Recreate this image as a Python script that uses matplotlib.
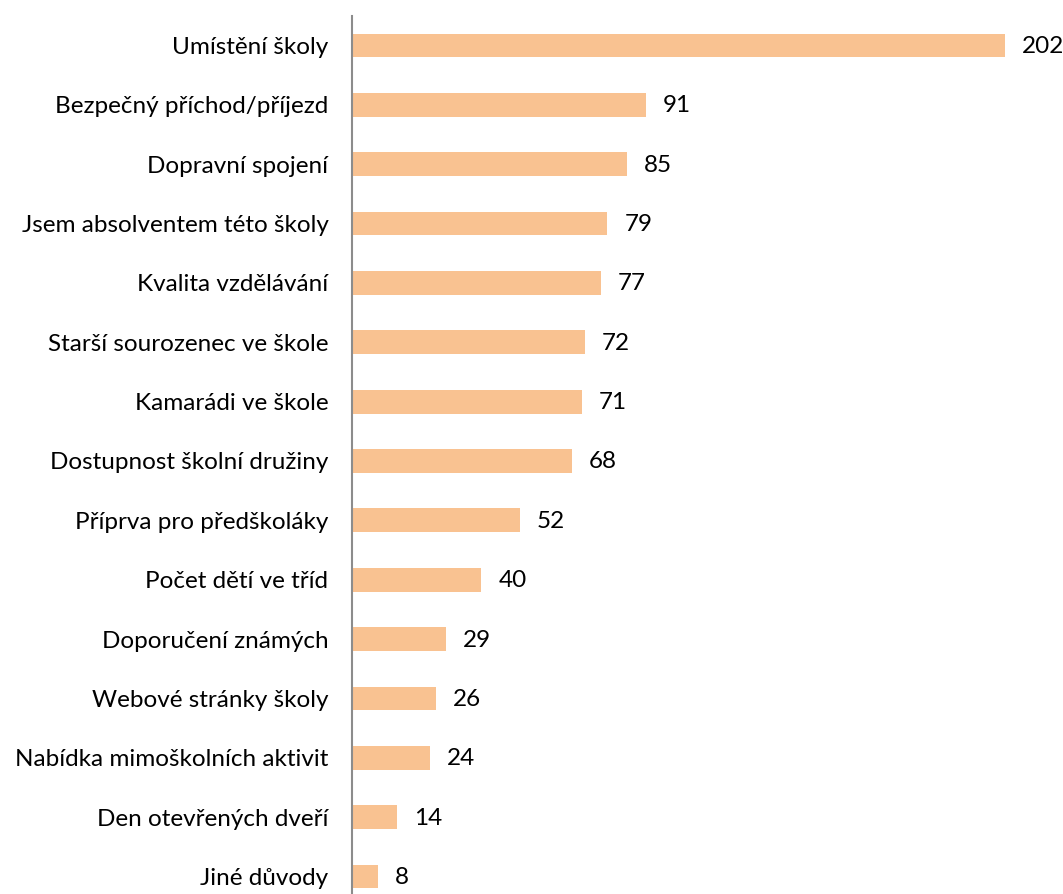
import numpy as np
import matplotlib.pyplot as plt

plt.rcParams['font.family'] = ['Lato', 'DejaVu Sans']

duvody = ['Umístění školy', 'Bezpečný příchod/příjezd', 'Dopravní spojení',
          'Jsem absolventem této školy', 'Kvalita vzdělávání',
          'Starší sourozenec ve škole', 'Kamarádi ve škole',
          'Dostupnost školní družiny', 'Příprva pro předškoláky',
          'Počet dětí ve tříd', 'Doporučení známých', 'Webové stránky školy',
          'Nabídka mimoškolních aktivit', 'Den otevřených dveří', 'Jiné důvody']
pocty = [202, 91, 85, 79, 77, 72, 71, 68, 52, 40, 29, 26, 24, 14, 8]

W, H = 1063, 894
fig = plt.figure(figsize=(W / 100, H / 100), dpi=100)
ax = fig.add_axes([352 / W, 0, 679 / W, 878 / H])

y = np.arange(len(duvody))
ax.barh(y, pocty, height=0.4, color='#F9C291')
ax.set_xlim(0, 210)
ax.set_ylim(14.295, -0.497)

# popisky hodnot vpravo od sloupcu
for yi, v in zip(y, pocty):
    ax.annotate(str(v), (v, yi), xytext=(17, -1), textcoords='offset pixels',
                va='center', ha='left', fontsize=17.5, color='black',
                annotation_clip=False)

ax.set_yticks(y)
ax.set_yticklabels(duvody, fontsize=17.5)
ax.tick_params(axis='y', length=0, pad=17)
ax.set_xticks([])
for s in ['top', 'right', 'bottom']:
    ax.spines[s].set_visible(False)
ax.spines['left'].set_color('#8C8C8C')
ax.spines['left'].set_linewidth(1.5)

fig.savefig('out.png', dpi=100)
